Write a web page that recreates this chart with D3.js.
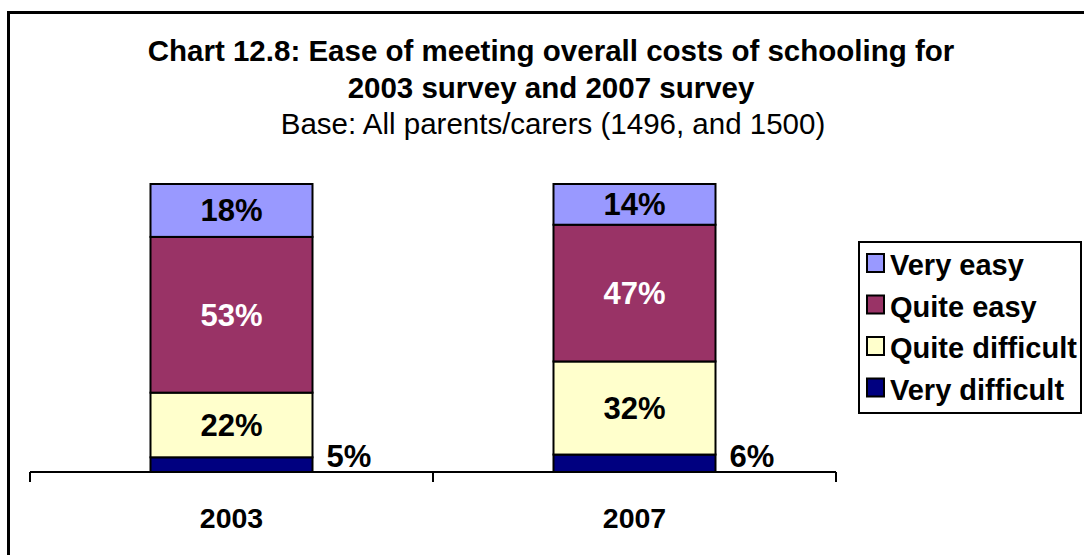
<!DOCTYPE html>
<html>
<head>
<meta charset="utf-8">
<script src="https://cdn.jsdelivr.net/npm/d3@7"></script>
<style>
  html, body { margin: 0; padding: 0; background: #fff; }
  svg { display: block; }
  text { font-family: "Liberation Sans", Arial, sans-serif; }
</style>
</head>
<body>
<svg id="chart" width="1084" height="555"></svg>
<script>
// ---- Data ----
const categories = ["2003", "2007"];
const seriesNames = ["Very difficult", "Quite difficult", "Quite easy", "Very easy"];
const veryDifficult = [5, 6];
const quiteDifficult = [22, 32];
const quiteEasy = [53, 47];
const veryEasy = [18, 14];
const seriesColors = ["#000080", "#FFFFCC", "#993366", "#9999FF"];
const labelColors = ["#000", "#000", "#fff", "#000"];
const titleLines = ["Chart 12.8: Ease of meeting overall costs of schooling for", "2003 survey and 2007 survey"];
const subtitle = "Base: All parents/carers (1496, and 1500)";
const legendOrder = ["Very easy", "Quite easy", "Quite difficult", "Very difficult"];

// ---- Build table ----
const valuesBySeries = [veryDifficult, quiteDifficult, quiteEasy, veryEasy];
const table = categories.map((c, i) => {
  const row = { category: c };
  seriesNames.forEach((s, j) => row[s] = valuesBySeries[j][i]);
  return row;
});

const svg = d3.select("#chart");

// Outer frame
svg.append("rect")
  .attr("x", 8.5).attr("y", 12.5).attr("width", 1100).attr("height", 600)
  .attr("fill", "#fff").attr("stroke", "#000").attr("stroke-width", 3);

// Titles
svg.append("text").attr("x", 551).attr("y", 61).attr("text-anchor", "middle")
  .attr("font-size", 29.5).attr("font-weight", "bold").text(titleLines[0]);
svg.append("text").attr("x", 551).attr("y", 98).attr("text-anchor", "middle")
  .attr("font-size", 29.5).attr("font-weight", "bold").text(titleLines[1]);
svg.append("text").attr("x", 553).attr("y", 134).attr("text-anchor", "middle")
  .attr("font-size", 29.5).text(subtitle);

// Scales
const slot = d3.scaleBand().domain(categories).range([30, 836]).padding(0);
const x = d3.scaleBand().domain(categories).range([30, 836]).paddingInner(0.598).paddingOuter(0.299);
const y = d3.scaleLinear().domain([0, 1]).range([472, 184]);

const stack = d3.stack().keys(seriesNames).offset(d3.stackOffsetExpand);
const stacked = stack(table);

// Bars
const layers = svg.append("g").selectAll("g").data(stacked).join("g")
  .attr("fill", (d, i) => seriesColors[i]);
layers.selectAll("rect").data(d => d).join("rect")
  .attr("x", d => x(d.data.category))
  .attr("y", d => y(d[1]))
  .attr("width", x.bandwidth())
  .attr("height", d => y(d[0]) - y(d[1]))
  .attr("stroke", "#000").attr("stroke-width", 2);

// Labels
stacked.forEach((layer, i) => {
  svg.append("g").selectAll("text").data(layer).join("text")
    .attr("font-size", 31).attr("font-weight", "bold")
    .attr("fill", labelColors[i])
    .attr("text-anchor", i === 0 ? "start" : "middle")
    .attr("x", d => i === 0 ? x(d.data.category) + x.bandwidth() + 14 : x(d.data.category) + x.bandwidth() / 2)
    .attr("y", d => i === 0 ? y(0) - 5 : (y(d[0]) + y(d[1])) / 2 + 11)
    .text(d => d.data[layer.key] + "%");
});

// Axis
const axisG = svg.append("g").attr("transform", `translate(0,${y(0)})`);
axisG.append("line").attr("x1", slot.range()[0]).attr("x2", slot.range()[1])
  .attr("stroke", "#000").attr("stroke-width", 2);
const tickPos = categories.map(c => slot(c)).concat([slot.range()[1]]);
axisG.selectAll("line.tick").data(tickPos).join("line").attr("class", "tick")
  .attr("x1", d => d).attr("x2", d => d).attr("y1", 0).attr("y2", 10)
  .attr("stroke", "#000").attr("stroke-width", 2);
axisG.selectAll("text").data(categories).join("text")
  .attr("x", d => slot(d) + slot.bandwidth() / 2)
  .attr("y", 56).attr("text-anchor", "middle")
  .attr("font-size", 28.5).attr("font-weight", "bold")
  .text(d => d);

// Legend
const legend = svg.append("g");
legend.append("rect").attr("x", 859).attr("y", 242).attr("width", 222).attr("height", 171)
  .attr("fill", "#fff").attr("stroke", "#000").attr("stroke-width", 2);
const colorOf = name => seriesColors[seriesNames.indexOf(name)];
const items = legend.selectAll("g.item").data(legendOrder).join("g").attr("class", "item")
  .attr("transform", (d, i) => `translate(867,${266 + i * 41.5})`);
items.append("rect").attr("x", 0).attr("y", -12).attr("width", 17).attr("height", 18)
  .attr("fill", d => colorOf(d)).attr("stroke", "#000").attr("stroke-width", 2);
items.append("text").attr("x", 23).attr("y", 9)
  .attr("font-size", 29).attr("font-weight", "bold").text(d => d);
</script>
</body>
</html>
